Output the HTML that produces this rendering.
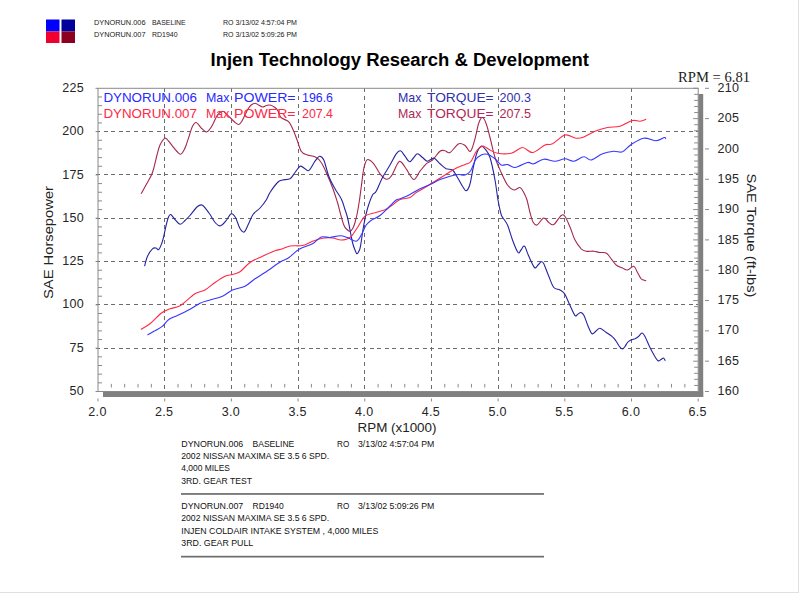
<!DOCTYPE html><html><head><meta charset="utf-8"><title>Dyno Chart</title><style>html,body{margin:0;padding:0;background:#fff;overflow:hidden}body{width:800px;height:593px;position:relative;font-family:"Liberation Sans",sans-serif}</style></head><body>
<svg width="800" height="593" viewBox="0 0 800 593" style="position:absolute;left:0;top:0;font-family:'Liberation Sans',sans-serif">
<rect width="800" height="593" fill="#fff"/>
<rect x="798" y="0" width="1" height="593" fill="#e0e0e0"/><rect x="0" y="592" width="799" height="1" fill="#e0e0e0"/>
<rect x="46" y="19.5" width="13.5" height="12" fill="#0000ff"/><rect x="61.5" y="19.5" width="13.5" height="12" fill="#00009c"/>
<rect x="46" y="31.5" width="13.5" height="11.5" fill="#f00030"/><rect x="61.5" y="31.5" width="13.5" height="11.5" fill="#8c0020"/>
<rect x="698.4" y="94" width="4.8" height="303" fill="#808080"/><rect x="103" y="391.5" width="600.2" height="5.5" fill="#808080"/>
<path d="M164.50,88.3V391.5M231.50,88.3V391.5M298.50,88.3V391.5M364.50,88.3V391.5M431.50,88.3V391.5M498.50,88.3V391.5M564.50,88.3V391.5M631.50,88.3V391.5M96,348.50H698.2M96,304.50H698.2M96,261.50H698.2M96,218.50H698.2M96,174.50H698.2M96,131.50H698.2" stroke="#6c6c6c" stroke-width="1" stroke-dasharray="4,3.6" shape-rendering="crispEdges" fill="none"/>
<rect x="98" y="88.3" width="600.2" height="303.2" fill="none" stroke="#8a8a8a" stroke-width="1"/>
<path d="M98,391.50h0M98,382.84h4M98,374.17h4M98,365.51h4M98,356.85h4M98,348.19h0M98,339.52h4M98,330.86h4M98,322.20h4M98,313.53h4M98,304.87h0M98,296.21h4M98,287.55h4M98,278.88h4M98,270.22h4M98,261.56h0M98,252.89h4M98,244.23h4M98,235.57h4M98,226.91h4M98,218.24h0M98,209.58h4M98,200.92h4M98,192.25h4M98,183.59h4M98,174.93h0M98,166.27h4M98,157.60h4M98,148.94h4M98,140.28h4M98,131.61h0M98,122.95h4M98,114.29h4M98,105.63h4M98,96.96h4M98,88.30h0M698.2,391.50h-5M698.2,385.44h-4M698.2,379.37h-4M698.2,373.31h-4M698.2,367.24h-4M698.2,361.18h-5M698.2,355.12h-4M698.2,349.05h-4M698.2,342.99h-4M698.2,336.92h-4M698.2,330.86h-5M698.2,324.80h-4M698.2,318.73h-4M698.2,312.67h-4M698.2,306.60h-4M698.2,300.54h-5M698.2,294.48h-4M698.2,288.41h-4M698.2,282.35h-4M698.2,276.28h-4M698.2,270.22h-5M698.2,264.16h-4M698.2,258.09h-4M698.2,252.03h-4M698.2,245.96h-4M698.2,239.90h-5M698.2,233.84h-4M698.2,227.77h-4M698.2,221.71h-4M698.2,215.64h-4M698.2,209.58h-5M698.2,203.52h-4M698.2,197.45h-4M698.2,191.39h-4M698.2,185.32h-4M698.2,179.26h-5M698.2,173.20h-4M698.2,167.13h-4M698.2,161.07h-4M698.2,155.00h-4M698.2,148.94h-5M698.2,142.88h-4M698.2,136.81h-4M698.2,130.75h-4M698.2,124.68h-4M698.2,118.62h-5M698.2,112.56h-4M698.2,106.49h-4M698.2,100.43h-4M698.2,94.36h-4M698.2,88.30h-5M111.34,383.9v3.6M124.68,383.9v3.6M138.01,383.9v3.6M151.35,383.9v3.6M178.03,383.9v3.6M191.36,383.9v3.6M204.70,383.9v3.6M218.04,383.9v3.6M244.72,383.9v3.6M258.05,383.9v3.6M271.39,383.9v3.6M284.73,383.9v3.6M311.40,383.9v3.6M324.74,383.9v3.6M338.08,383.9v3.6M351.42,383.9v3.6M378.09,383.9v3.6M391.43,383.9v3.6M404.77,383.9v3.6M418.11,383.9v3.6M444.78,383.9v3.6M458.12,383.9v3.6M471.46,383.9v3.6M484.80,383.9v3.6M511.47,383.9v3.6M524.81,383.9v3.6M538.15,383.9v3.6M551.48,383.9v3.6M578.16,383.9v3.6M591.50,383.9v3.6M604.84,383.9v3.6M618.17,383.9v3.6M644.85,383.9v3.6M658.19,383.9v3.6M671.52,383.9v3.6M684.86,383.9v3.6" stroke="#8a8a8a" stroke-width="1" fill="none"/>
<path d="M95.5,391.50h2.5M95.5,348.19h2.5M95.5,304.87h2.5M95.5,261.56h2.5M95.5,218.24h2.5M95.5,174.93h2.5M95.5,131.61h2.5M95.5,88.30h2.5M705,391.50h4M705,361.18h4M705,330.86h4M705,300.54h4M705,270.22h4M705,239.90h4M705,209.58h4M705,179.26h4M705,148.94h4M705,118.62h4M705,88.30h4M98.00,398.5v3M164.69,398.5v3M231.38,398.5v3M298.07,398.5v3M364.76,398.5v3M431.44,398.5v3M498.13,398.5v3M564.82,398.5v3M631.51,398.5v3M698.20,398.5v3" stroke="#8a8a8a" stroke-width="1" fill="none"/>
<path d="M141.2,193.8C142.0,192.3 144.1,188.5 146.0,185.0C147.9,181.5 150.7,177.5 152.5,172.5C154.3,167.5 155.8,159.6 157.0,155.0C158.2,150.4 158.7,147.8 160.0,145.0C161.3,142.2 163.6,138.9 165.0,138.2C166.4,137.6 167.2,139.7 168.5,141.0C169.8,142.3 171.1,144.5 172.5,146.2C173.9,148.0 175.7,150.2 177.0,151.5C178.3,152.8 179.4,154.3 180.5,154.2C181.6,154.2 182.5,152.5 183.5,151.0C184.5,149.5 185.2,147.7 186.2,145.0C187.2,142.3 188.5,138.1 189.5,135.0C190.5,131.9 191.4,128.3 192.5,126.2C193.6,124.2 194.8,122.2 196.2,122.5C197.7,122.8 199.6,126.4 201.2,128.0C202.9,129.6 204.9,131.8 206.2,132.0C207.6,132.2 208.5,130.7 209.5,129.5C210.5,128.3 211.2,127.4 212.5,125.0C213.8,122.6 215.8,117.3 217.5,115.0C219.2,112.7 221.1,111.5 222.5,111.2C223.9,111.0 224.8,112.5 226.0,113.5C227.2,114.5 228.6,116.1 230.0,117.5C231.4,118.9 233.0,120.8 234.5,122.0C236.0,123.2 237.5,124.7 238.8,124.5C240.0,124.3 241.0,122.6 242.0,121.0C243.0,119.4 244.0,117.0 245.0,115.0C246.0,113.0 247.0,110.7 248.0,109.0C249.0,107.3 250.1,106.0 251.2,105.0C252.4,104.0 253.8,103.2 255.0,103.2C256.2,103.2 257.2,104.4 258.5,105.0C259.8,105.6 261.2,106.9 262.5,107.0C263.8,107.1 265.2,105.8 266.5,105.5C267.8,105.2 268.6,104.7 270.0,105.0C271.4,105.3 273.7,106.5 275.0,107.5C276.3,108.5 277.0,109.3 278.0,111.0C279.0,112.7 279.3,115.8 281.0,117.5C282.7,119.2 286.2,119.8 288.0,121.2C289.8,122.7 290.1,123.5 291.5,126.2C292.9,129.0 294.6,133.3 296.2,137.5C297.9,141.7 299.4,148.3 301.2,151.2C303.1,154.2 305.2,154.1 307.5,155.0C309.8,155.9 312.7,155.5 315.0,156.8C317.3,158.0 319.4,159.9 321.2,162.5C323.1,165.1 324.4,168.3 326.2,172.5C328.1,176.7 330.6,182.5 332.5,187.5C334.4,192.5 336.2,198.4 337.5,202.5C338.8,206.6 339.0,208.2 340.0,212.0C341.0,215.8 342.6,222.1 343.8,225.0C344.9,227.9 346.0,228.5 347.0,229.5C348.0,230.5 349.0,231.5 350.0,231.2C351.0,231.0 352.2,229.5 353.0,228.0C353.8,226.5 354.2,225.2 355.0,222.5C355.8,219.8 356.8,215.8 357.5,212.0C358.2,208.2 358.8,204.5 359.5,200.0C360.2,195.5 360.8,190.0 361.5,185.0C362.2,180.0 362.8,173.8 363.5,170.0C364.2,166.2 364.8,164.2 365.5,162.5C366.2,160.8 366.6,159.3 368.0,159.5C369.4,159.7 371.8,161.4 373.8,163.8C375.8,166.1 377.9,171.2 380.0,173.8C382.1,176.3 384.4,178.8 386.2,179.2C388.1,179.7 389.4,178.8 391.2,176.2C393.1,173.7 395.9,166.2 397.5,163.8C399.1,161.3 399.3,160.9 400.8,161.8C402.2,162.6 404.1,165.8 406.2,168.8C408.4,171.7 411.5,179.1 413.8,179.5C416.0,179.9 417.9,173.9 420.0,171.2C422.1,168.6 424.2,165.6 426.2,163.8C428.3,161.9 430.2,162.1 432.5,160.0C434.8,157.9 437.9,152.8 440.0,151.2C442.1,149.7 443.3,150.5 445.0,150.8C446.7,151.0 447.7,153.7 450.0,152.5C452.3,151.3 456.2,144.9 458.8,143.8C461.2,142.6 463.0,144.2 465.0,145.5C467.0,146.8 468.8,152.4 470.5,151.2C472.2,150.1 473.6,143.5 475.0,138.8C476.4,134.0 477.5,126.5 478.8,123.0C480.0,119.5 481.2,117.4 482.5,117.5C483.8,117.6 485.0,120.4 486.2,123.8C487.5,127.1 488.5,131.9 490.0,137.5C491.5,143.1 493.1,151.7 495.0,157.5C496.9,163.3 499.2,167.9 501.2,172.5C503.3,177.1 505.4,182.1 507.5,185.0C509.6,187.9 511.7,189.6 513.8,190.0C515.8,190.4 518.3,187.1 520.0,187.5C521.7,187.9 522.6,190.4 523.8,192.5C524.9,194.6 526.0,196.7 527.0,200.0C528.0,203.3 529.0,208.8 530.0,212.5C531.0,216.2 531.8,219.9 533.0,222.0C534.2,224.1 535.2,225.7 537.0,225.0C538.8,224.3 541.8,218.4 543.8,218.0C545.7,217.6 547.1,221.4 548.8,222.5C550.4,223.6 551.7,225.7 553.8,224.5C555.8,223.3 559.4,216.8 561.2,215.5C563.1,214.2 563.5,214.6 565.0,216.5C566.5,218.4 568.3,223.1 570.0,227.0C571.7,230.9 573.1,236.4 575.0,240.0C576.9,243.6 579.4,246.9 581.2,248.8C583.1,250.6 584.2,250.8 586.2,251.2C588.3,251.7 591.5,251.0 593.8,251.2C596.0,251.5 597.9,252.2 600.0,252.5C602.1,252.8 604.4,252.0 606.2,253.0C608.1,254.0 609.6,256.8 611.2,258.8C612.9,260.8 614.4,263.5 616.2,265.0C618.1,266.5 620.6,267.2 622.5,268.0C624.4,268.8 625.6,270.3 627.5,270.0C629.4,269.7 632.1,265.8 633.8,266.2C635.4,266.7 636.2,270.4 637.5,272.5C638.8,274.6 639.8,277.4 641.2,278.8C642.7,280.1 645.4,280.4 646.2,280.8" stroke="#a4284c" stroke-width="1.1" fill="none"/>
<path d="M144.5,266.2C145.0,264.6 146.2,259.2 147.5,256.2C148.8,253.3 151.1,250.1 152.5,248.8C153.9,247.4 155.0,247.9 156.0,248.0C157.0,248.1 157.7,250.6 158.8,249.5C159.8,248.4 161.2,245.3 162.5,241.2C163.8,237.2 165.2,229.0 166.2,225.0C167.2,221.0 167.8,218.8 168.5,217.0C169.2,215.2 169.7,214.1 170.8,214.5C171.8,214.9 173.4,217.9 175.0,219.5C176.6,221.1 178.6,224.1 180.2,224.2C181.9,224.4 183.5,221.9 185.0,220.5C186.5,219.1 187.4,218.3 189.5,216.0C191.6,213.7 195.3,208.3 197.5,206.5C199.7,204.7 200.6,204.2 202.5,205.2C204.4,206.3 206.8,210.0 209.0,213.0C211.2,216.0 213.6,220.9 215.5,223.0C217.4,225.1 218.7,226.2 220.5,225.8C222.3,225.3 224.5,222.5 226.2,220.5C228.0,218.5 229.7,214.2 231.2,213.8C232.8,213.2 234.0,215.0 235.5,217.5C237.0,220.0 238.5,226.1 240.0,228.5C241.5,230.9 242.9,232.6 244.2,232.0C245.6,231.4 246.5,227.9 248.0,225.0C249.5,222.1 251.0,217.3 253.0,214.5C255.0,211.7 257.8,210.4 260.0,208.0C262.2,205.6 264.6,202.6 266.2,200.0C267.9,197.4 268.1,195.4 270.0,192.5C271.9,189.6 275.4,184.6 277.5,182.5C279.6,180.4 280.4,180.6 282.5,180.0C284.6,179.4 287.9,180.0 290.0,178.8C292.1,177.5 293.3,174.6 295.0,172.5C296.7,170.4 298.5,167.0 300.0,166.2C301.5,165.5 302.5,167.3 304.0,168.0C305.5,168.7 306.9,171.6 308.8,170.5C310.6,169.4 313.2,163.6 315.0,161.2C316.8,158.9 318.0,156.5 319.5,156.2C321.0,156.0 322.2,156.7 323.8,160.0C325.3,163.3 326.9,171.5 328.8,176.2C330.6,181.0 332.9,185.0 335.0,188.8C337.1,192.5 339.7,195.5 341.2,198.8C342.8,202.0 343.5,204.9 344.5,208.0C345.5,211.1 346.6,213.8 347.5,217.5C348.4,221.2 349.2,225.8 350.0,230.0C350.8,234.2 351.7,239.2 352.5,242.5C353.3,245.8 354.2,248.1 355.0,250.0C355.8,251.9 356.3,253.6 357.0,253.8C357.7,253.9 358.4,252.2 359.0,251.0C359.6,249.8 359.7,250.6 360.5,246.2C361.3,241.9 362.6,231.3 363.8,225.0C364.9,218.7 366.0,213.5 367.5,208.5C369.0,203.5 371.0,197.9 372.5,195.0C374.0,192.1 374.6,194.2 376.2,191.2C377.9,188.3 380.2,181.9 382.5,177.5C384.8,173.1 387.7,169.0 390.0,165.0C392.3,161.0 394.5,156.1 396.2,153.8C398.0,151.4 399.0,150.3 400.5,150.8C402.0,151.2 403.5,154.4 405.0,156.2C406.5,158.1 408.0,161.5 409.5,161.8C411.0,162.0 412.4,158.8 413.8,157.5C415.1,156.2 416.0,153.8 417.5,153.8C419.0,153.8 420.8,156.2 422.5,157.5C424.2,158.8 425.6,161.2 427.5,161.2C429.4,161.3 431.7,157.6 433.8,158.0C435.8,158.4 437.9,162.0 440.0,163.8C442.1,165.5 444.2,167.7 446.2,168.8C448.3,169.8 450.6,168.5 452.5,170.0C454.4,171.5 455.8,174.8 457.5,177.5C459.2,180.2 461.0,184.0 462.5,186.2C464.0,188.5 465.0,191.1 466.2,190.8C467.5,190.4 468.8,188.3 470.0,184.0C471.2,179.7 472.5,170.5 473.8,165.0C475.0,159.5 476.2,154.4 477.5,151.2C478.8,148.1 480.0,146.7 481.2,146.2C482.5,145.8 483.5,146.9 485.0,148.8C486.5,150.6 488.3,152.3 490.0,157.5C491.7,162.7 493.7,172.9 495.0,180.0C496.3,187.1 497.0,194.3 498.0,200.0C499.0,205.7 500.2,211.0 501.0,214.0C501.8,217.0 501.9,216.2 503.0,218.0C504.1,219.8 505.9,221.3 507.5,225.0C509.1,228.7 510.8,235.4 512.5,240.0C514.2,244.6 516.6,250.8 518.0,252.5C519.4,254.2 519.9,251.0 521.0,250.0C522.1,249.0 523.2,245.2 524.5,246.2C525.8,247.3 527.1,252.7 528.8,256.2C530.4,259.8 533.0,266.0 534.5,267.5C536.0,269.0 536.9,266.0 538.0,265.0C539.1,264.0 540.3,262.0 541.2,261.8C542.2,261.5 542.5,261.3 543.8,263.8C545.0,266.2 547.1,272.3 548.8,276.2C550.4,280.2 551.9,285.2 553.8,287.5C555.6,289.8 558.2,288.9 560.0,290.0C561.8,291.1 563.1,291.5 564.8,294.0C566.4,296.5 568.0,301.4 569.8,305.0C571.5,308.6 573.6,314.0 575.0,315.5C576.4,317.0 577.0,314.5 578.0,314.0C579.0,313.5 580.0,312.2 581.0,312.5C582.0,312.8 582.8,313.2 584.0,315.5C585.2,317.8 586.7,323.0 588.0,326.0C589.3,329.0 590.7,332.9 592.0,333.8C593.3,334.6 594.7,331.9 596.0,331.0C597.3,330.1 598.3,328.0 600.0,328.2C601.7,328.5 603.9,330.8 606.0,332.2C608.1,333.7 610.8,335.3 612.5,336.8C614.2,338.2 614.8,339.4 616.0,341.0C617.2,342.6 618.4,345.2 619.5,346.5C620.6,347.8 621.6,349.0 622.5,349.0C623.4,349.0 624.2,347.6 625.0,346.5C625.8,345.4 626.7,343.5 627.5,342.5C628.3,341.5 628.8,341.1 630.0,340.5C631.2,339.9 633.6,339.4 635.0,338.8C636.4,338.1 637.3,337.5 638.5,336.5C639.7,335.5 640.9,333.0 642.0,333.0C643.1,333.0 643.8,334.2 645.0,336.5C646.2,338.8 648.0,343.4 649.5,346.5C651.0,349.6 652.6,352.6 654.0,355.0C655.4,357.4 656.8,359.9 658.0,360.7C659.2,361.4 660.1,359.9 661.0,359.5C661.9,359.1 662.8,357.8 663.5,358.0C664.2,358.2 665.0,360.2 665.3,360.7" stroke="#2424a0" stroke-width="1.1" fill="none"/>
<path d="M140.8,329.5C142.3,328.5 146.6,326.5 150.0,323.8C153.4,321.0 157.9,315.8 161.2,313.2C164.6,310.8 166.9,310.0 170.0,308.8C173.1,307.5 175.8,308.2 180.0,305.8C184.2,303.2 190.8,296.4 195.0,293.8C199.2,291.1 201.7,291.9 205.0,290.0C208.3,288.1 211.7,284.8 215.0,282.5C218.3,280.2 222.1,277.6 225.0,276.2C227.9,274.9 230.0,275.2 232.5,274.5C235.0,273.8 237.1,273.8 240.0,271.8C242.9,269.8 246.2,265.1 250.0,262.5C253.8,259.9 258.3,258.2 262.5,256.2C266.7,254.3 271.8,252.0 275.0,250.8C278.2,249.5 279.5,249.8 282.0,249.0C284.5,248.2 286.6,246.6 290.0,246.0C293.4,245.4 298.8,246.3 302.5,245.5C306.2,244.7 309.2,242.5 312.5,241.2C315.8,240.0 319.2,238.8 322.5,238.2C325.8,237.7 329.4,237.7 332.5,238.0C335.6,238.3 338.3,240.1 341.2,240.0C344.2,239.9 347.3,239.6 350.0,237.5C352.7,235.4 355.0,231.0 357.5,227.5C360.0,224.0 362.1,218.7 365.0,216.2C367.9,213.8 371.7,213.8 375.0,212.8C378.3,211.7 382.1,211.0 385.0,209.8C387.9,208.5 390.0,206.7 392.5,205.0C395.0,203.3 397.1,200.8 400.0,199.5C402.9,198.2 407.3,198.7 410.0,197.5C412.7,196.3 413.8,194.2 416.2,192.5C418.8,190.8 421.9,189.4 425.0,187.5C428.1,185.6 431.7,183.3 435.0,181.2C438.3,179.2 441.7,177.1 445.0,175.0C448.3,172.9 451.7,170.5 455.0,168.8C458.3,167.0 462.4,165.6 465.0,164.5C467.6,163.4 468.6,164.2 470.5,162.0C472.4,159.8 474.7,153.9 476.2,151.5C477.8,149.1 478.8,148.4 480.0,147.5C481.2,146.6 482.1,145.8 483.8,146.2C485.4,146.7 487.7,148.8 490.0,150.0C492.3,151.2 494.0,152.7 497.5,153.2C501.0,153.8 507.1,154.2 511.2,153.2C515.4,152.3 519.0,147.6 522.5,147.5C526.0,147.4 528.8,152.9 532.5,152.5C536.2,152.1 541.7,146.5 545.0,145.0C548.3,143.5 549.2,145.4 552.5,143.8C555.8,142.1 561.2,136.0 565.0,135.0C568.8,134.0 572.1,137.6 575.0,138.0C577.9,138.4 579.2,138.6 582.5,137.5C585.8,136.4 590.8,132.9 595.0,131.2C599.2,129.6 603.3,128.3 607.5,127.5C611.7,126.7 615.8,127.4 620.0,126.2C624.2,125.1 629.2,121.3 632.5,120.5C635.8,119.7 637.7,121.5 640.0,121.2C642.3,121.0 645.2,119.6 646.2,119.2" stroke="#ff2846" stroke-width="1.1" fill="none"/>
<path d="M147.5,335.0C148.8,334.3 152.5,332.2 155.0,330.8C157.5,329.3 160.2,328.1 162.5,326.2C164.8,324.4 166.2,321.3 168.8,319.5C171.2,317.7 174.0,317.2 177.5,315.5C181.0,313.8 186.2,311.3 190.0,309.2C193.8,307.2 196.7,304.8 200.0,303.2C203.3,301.7 206.2,301.2 210.0,300.0C213.8,298.8 218.8,297.9 222.5,296.2C226.2,294.6 228.8,291.7 232.5,290.0C236.2,288.3 241.2,288.1 245.0,286.2C248.8,284.4 251.7,281.0 255.0,278.8C258.3,276.5 261.2,275.0 265.0,272.5C268.8,270.0 274.5,265.8 277.5,263.8C280.5,261.8 281.1,261.5 283.0,260.5C284.9,259.5 286.2,259.5 289.0,257.5C291.8,255.5 296.1,251.0 300.0,248.8C303.9,246.5 309.0,245.7 312.5,243.8C316.0,241.8 318.3,238.0 321.2,237.0C324.2,236.0 326.9,237.7 330.0,237.5C333.1,237.3 337.1,235.8 340.0,235.8C342.9,235.8 344.8,236.6 347.5,237.5C350.2,238.4 354.0,241.7 356.2,241.2C358.5,240.8 359.6,237.7 361.2,235.0C362.9,232.3 364.6,227.4 366.2,225.0C367.9,222.6 368.7,222.1 371.0,220.5C373.3,218.9 377.1,217.7 380.0,215.5C382.9,213.3 385.8,210.1 388.5,207.5C391.2,204.9 394.3,201.5 396.2,200.0C398.2,198.5 397.7,199.7 400.0,198.8C402.3,197.8 406.7,196.2 410.0,194.5C413.3,192.8 416.7,190.4 420.0,188.8C423.3,187.1 426.7,186.0 430.0,184.5C433.3,183.0 436.7,180.9 440.0,179.5C443.3,178.1 446.9,177.1 450.0,176.2C453.1,175.4 456.2,174.7 458.8,174.5C461.2,174.3 463.0,175.6 465.0,175.0C467.0,174.4 468.8,173.5 470.5,171.0C472.2,168.5 473.7,162.7 475.5,160.0C477.3,157.3 479.2,156.0 481.2,155.0C483.2,154.0 485.2,153.6 487.5,154.2C489.8,154.9 492.7,157.0 495.0,158.8C497.3,160.5 499.2,164.0 501.2,165.0C503.3,166.0 505.2,164.1 507.5,164.5C509.8,164.9 511.7,167.8 515.0,167.5C518.3,167.2 524.4,163.1 527.5,162.5C530.6,161.9 531.0,164.3 533.8,163.8C536.5,163.2 540.2,159.7 543.8,159.2C547.3,158.8 551.5,161.3 555.0,161.2C558.5,161.2 561.9,158.8 565.0,158.8C568.1,158.8 570.6,161.6 573.8,161.2C576.9,160.9 580.8,157.0 583.8,156.8C586.7,156.5 588.1,160.5 591.2,160.0C594.4,159.5 598.8,155.2 602.5,153.8C606.2,152.3 610.4,151.6 613.8,151.2C617.1,150.9 619.6,152.9 622.5,151.8C625.4,150.6 627.7,146.8 631.2,144.5C634.8,142.2 639.6,138.9 643.8,138.2C647.9,137.6 652.8,140.9 656.2,140.8C659.7,140.6 662.9,137.8 664.5,137.5C666.1,137.2 665.5,138.8 665.8,139.0" stroke="#3636ff" stroke-width="1.1" fill="none"/>
<g font-size="12.5" fill="#262626" letter-spacing="0.3">
<text x="84" y="395.10" text-anchor="end">50</text>
<text x="84" y="351.79" text-anchor="end">75</text>
<text x="84" y="308.47" text-anchor="end">100</text>
<text x="84" y="265.16" text-anchor="end">125</text>
<text x="84" y="221.84" text-anchor="end">150</text>
<text x="84" y="178.53" text-anchor="end">175</text>
<text x="84" y="135.21" text-anchor="end">200</text>
<text x="84" y="91.90" text-anchor="end">225</text>
<text x="717.5" y="395.10">160</text>
<text x="717.5" y="364.78">165</text>
<text x="717.5" y="334.46">170</text>
<text x="717.5" y="304.14">175</text>
<text x="717.5" y="273.82">180</text>
<text x="717.5" y="243.50">185</text>
<text x="717.5" y="213.18">190</text>
<text x="717.5" y="182.86">195</text>
<text x="717.5" y="152.54">200</text>
<text x="717.5" y="122.22">205</text>
<text x="717.5" y="91.90">210</text>
<text x="97.50" y="416.4" text-anchor="middle">2.0</text>
<text x="164.19" y="416.4" text-anchor="middle">2.5</text>
<text x="230.88" y="416.4" text-anchor="middle">3.0</text>
<text x="297.57" y="416.4" text-anchor="middle">3.5</text>
<text x="364.26" y="416.4" text-anchor="middle">4.0</text>
<text x="430.94" y="416.4" text-anchor="middle">4.5</text>
<text x="497.63" y="416.4" text-anchor="middle">5.0</text>
<text x="564.32" y="416.4" text-anchor="middle">5.5</text>
<text x="631.01" y="416.4" text-anchor="middle">6.0</text>
<text x="697.70" y="416.4" text-anchor="middle">6.5</text>
</g>
<text x="357.5" y="432" font-size="13.4" fill="#222" textLength="79" lengthAdjust="spacingAndGlyphs">RPM (x1000)</text>
<text transform="translate(53.4,299) rotate(-90)" font-size="13.4" fill="#222" textLength="113" lengthAdjust="spacingAndGlyphs">SAE Horsepower</text>
<text transform="translate(746.8,173.5) rotate(90)" font-size="13.4" fill="#222" textLength="124" lengthAdjust="spacingAndGlyphs">SAE Torque (ft-lbs)</text>
<text x="678" y="81.75" font-size="14.5" fill="#222" font-family="'Liberation Serif',serif" textLength="72" lengthAdjust="spacingAndGlyphs">RPM = 6.81</text>
<text x="210.5" y="65.75" font-size="19.2" font-weight="bold" fill="#000" textLength="378.5" lengthAdjust="spacingAndGlyphs">Injen Technology Research &amp; Development</text>
<g font-size="13" fill="#2828ff"><text x="103.4" y="102.4" textLength="93.6" lengthAdjust="spacingAndGlyphs">DYNORUN.006</text><text x="206" y="102.4" textLength="23.4" lengthAdjust="spacingAndGlyphs">Max</text><text x="234" y="102.4" textLength="61.6" lengthAdjust="spacingAndGlyphs">POWER=</text><text x="302" y="102.4" textLength="31" lengthAdjust="spacingAndGlyphs">196.6</text></g>
<g font-size="13" fill="#3030b0"><text x="398" y="102.4" textLength="23.4" lengthAdjust="spacingAndGlyphs">Max</text><text x="427" y="102.4" textLength="66.6" lengthAdjust="spacingAndGlyphs">TORQUE=</text><text x="499.6" y="102.4" textLength="31.4" lengthAdjust="spacingAndGlyphs">200.3</text></g>
<g font-size="13" fill="#ff2846"><text x="103.4" y="118" textLength="93.6" lengthAdjust="spacingAndGlyphs">DYNORUN.007</text><text x="206" y="118" textLength="23.4" lengthAdjust="spacingAndGlyphs">Max</text><text x="234" y="118" textLength="61.6" lengthAdjust="spacingAndGlyphs">POWER=</text><text x="302" y="118" textLength="31" lengthAdjust="spacingAndGlyphs">207.4</text></g>
<g font-size="13" fill="#b02858"><text x="398" y="118" textLength="23.4" lengthAdjust="spacingAndGlyphs">Max</text><text x="427" y="118" textLength="66.6" lengthAdjust="spacingAndGlyphs">TORQUE=</text><text x="499.6" y="118" textLength="31.4" lengthAdjust="spacingAndGlyphs">207.5</text></g>
<g font-size="6.8" fill="#181818" lengthAdjust="spacingAndGlyphs">
<text x="94" y="25.3" textLength="51.5" lengthAdjust="spacingAndGlyphs">DYNORUN.006</text><text x="152" y="25.3" textLength="33.7" lengthAdjust="spacingAndGlyphs">BASELINE</text><text x="223" y="25.3" textLength="74" lengthAdjust="spacingAndGlyphs">RO 3/13/02 4:57:04 PM</text>
<text x="94" y="36.7" textLength="51.5" lengthAdjust="spacingAndGlyphs">DYNORUN.007</text><text x="152" y="36.7" textLength="25.5" lengthAdjust="spacingAndGlyphs">RD1940</text><text x="223" y="36.7" textLength="74" lengthAdjust="spacingAndGlyphs">RO 3/13/02 5:09:26 PM</text>
</g>
<g font-size="8.6" fill="#111">
<text x="181.25" y="446.5" textLength="62" lengthAdjust="spacingAndGlyphs">DYNORUN.006</text>
<text x="252.5" y="446.5" textLength="41.75" lengthAdjust="spacingAndGlyphs">BASELINE</text>
<text x="337" y="446.5" textLength="12.25" lengthAdjust="spacingAndGlyphs">RO</text>
<text x="358" y="446.5" textLength="76.25" lengthAdjust="spacingAndGlyphs">3/13/02 4:57:04 PM</text>
<text x="181.25" y="458.7" textLength="148" lengthAdjust="spacingAndGlyphs">2002 NISSAN MAXIMA SE 3.5 6 SPD.</text>
<text x="181.25" y="470.6" textLength="48.75" lengthAdjust="spacingAndGlyphs">4,000 MILES</text>
<text x="181.25" y="483.6" textLength="70.75" lengthAdjust="spacingAndGlyphs">3RD. GEAR TEST</text>
<text x="181.25" y="508.6" textLength="62" lengthAdjust="spacingAndGlyphs">DYNORUN.007</text>
<text x="252.5" y="508.6" textLength="31.25" lengthAdjust="spacingAndGlyphs">RD1940</text>
<text x="337" y="508.6" textLength="12.25" lengthAdjust="spacingAndGlyphs">RO</text>
<text x="358" y="508.6" textLength="76.25" lengthAdjust="spacingAndGlyphs">3/13/02 5:09:26 PM</text>
<text x="181.25" y="520.75" textLength="148" lengthAdjust="spacingAndGlyphs">2002 NISSAN MAXIMA SE 3.5 6 SPD.</text>
<text x="181.25" y="533.5" textLength="197" lengthAdjust="spacingAndGlyphs">INJEN COLDAIR INTAKE SYSTEM , 4,000 MILES</text>
<text x="181.25" y="545.8" textLength="72" lengthAdjust="spacingAndGlyphs">3RD. GEAR PULL</text>
</g>
<rect x="181" y="493.1" width="363" height="1.7" fill="#6c6c6c"/><rect x="181" y="555.8" width="363" height="1.7" fill="#6c6c6c"/>
</svg>
</body></html>
